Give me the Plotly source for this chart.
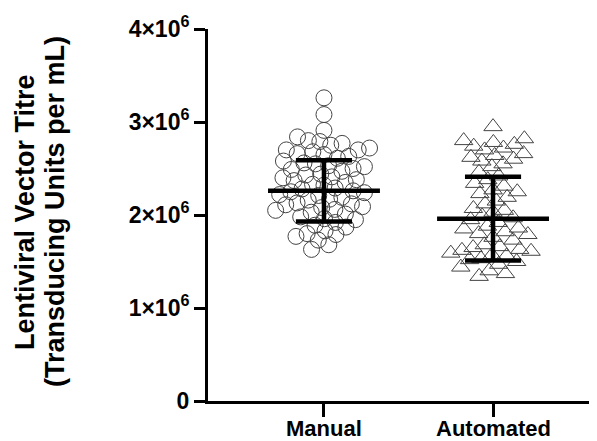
import numpy as np
import plotly.graph_objects as go

categories = ["Manual", "Automated"]

manual = [3.26, 3.08, 2.91,
          2.84, 2.80, 2.77, 2.75, 2.79,
          2.72, 2.70, 2.66, 2.68, 2.63, 2.61, 2.70, 2.65,
          2.58, 2.55, 2.52, 2.50, 2.47, 2.56, 2.49, 2.53,
          2.44, 2.41, 2.38, 2.35, 2.32, 2.43, 2.37, 2.40, 2.33,
          2.28, 2.26, 2.24, 2.22, 2.19, 2.17, 2.25, 2.21, 2.29, 2.16,
          2.13, 2.11, 2.09, 2.06, 2.03, 2.01, 2.12, 2.08, 2.05,
          1.98, 1.95, 1.92, 1.89, 1.96, 1.87,
          1.83, 1.80, 1.77, 1.73, 1.79,
          1.68, 1.63]

automated = [2.95,
             2.80, 2.78, 2.76, 2.74, 2.72, 2.82, 2.70,
             2.66, 2.62, 2.58, 2.55, 2.52, 2.64, 2.60,
             2.46, 2.42, 2.38, 2.34, 2.31,
             2.27, 2.23, 2.19, 2.15, 2.12, 2.25,
             2.07, 2.03, 1.99, 1.95, 1.92, 2.05, 1.97,
             1.88, 1.85, 1.82, 1.79, 1.76, 1.73, 1.86, 1.80,
             1.68, 1.66, 1.63, 1.61, 1.59, 1.57, 1.65, 1.62, 1.56,
             1.53, 1.50, 1.47, 1.44, 1.40, 1.37, 1.34, 1.52]

scale = 1e6
means = [2.26, 1.96]
sds = [0.33, 0.45]

yticks = [0, 1, 2, 3, 4]
yticktext = ["0", "1×10<sup>6</sup>", "2×10<sup>6</sup>", "3×10<sup>6</sup>", "4×10<sup>6</sup>"]
title_lines = ["Lentiviral Vector Titre", "(Transducing Units per mL)"]

# layout geometry (pixels); the page body has an 8px margin
OFF = 8
W, H = 597 - OFF, 441 - OFF
ML, MR, MT = 208 - OFF, 0, 29 - OFF
MB = H - (401 - OFF)
plot_w = W - ML - MR
plot_h = H - MT - MB
X_RANGE = [-0.686, 1.615]
PX_PER_CAT = plot_w / (X_RANGE[1] - X_RANGE[0])
PX_PER_Y = plot_h / 4.0


def swarm(vals, d):
    ys = np.array(vals) * PX_PER_Y
    med = np.median(ys)
    order = np.argsort(np.abs(ys - med))
    placed = []
    offs = np.zeros(len(ys))
    for i in order:
        y = ys[i]
        forb = []
        for (px, py) in placed:
            dy = abs(py - y)
            if dy < d:
                w = np.sqrt(d * d - dy * dy)
                forb.append((px - w, px + w))
        cands = [0.0] + [a for a, b in forb] + [b for a, b in forb]
        cands.sort(key=lambda c: (abs(c), c))
        for c in cands:
            if all(not (a + 1e-6 < c < b - 1e-6) for a, b in forb):
                offs[i] = c
                break
        placed.append((offs[i], y))
    return offs / PX_PER_CAT


fig = go.Figure()

groups = [manual, automated]
symbols = ["circle-open", "triangle-up-open"]
sizes = [16, 16]
for gi, (vals, sym, sz) in enumerate(zip(groups, symbols, sizes)):
    offs = swarm(vals, 11.5)
    fig.add_trace(go.Scatter(
        x=gi + offs, y=np.array(vals) * scale, mode="markers",
        marker=dict(symbol=sym, size=sz, color="#444444", line=dict(width=1, color="#444444")),
        showlegend=False, hoverinfo="y"))

# mean and SD bars
for gi, (m, s) in enumerate(zip(means, sds)):
    xs = [gi - 0.331, gi + 0.331, None, gi, gi, None,
          gi - 0.166, gi + 0.166, None, gi - 0.166, gi + 0.166]
    ys = [m, m, None, m - s, m + s, None, m + s, m + s, None, m - s, m - s]
    ys = [v * scale if v is not None else None for v in ys]
    fig.add_trace(go.Scatter(x=xs, y=ys, mode="lines",
                             line=dict(color="black", width=4.5),
                             showlegend=False, hoverinfo="skip"))

font_family = "Liberation Sans, Arial, sans-serif"

annots = []
for page_x, line in zip([25, 55], title_lines):
    annots.append(dict(
        text=line, xref="paper", yref="paper",
        x=(page_x - OFF - ML) / plot_w, y=(H - MB - (212 - OFF)) / plot_h,
        xanchor="center", yanchor="middle", textangle=-90, showarrow=False,
        font=dict(family=font_family, size=27, color="black", weight="bold")))

# category labels (placed as annotations so they sit closer to the ticks)
for gi, cat in enumerate(categories):
    annots.append(dict(
        text=cat, xref="x", yref="paper", x=gi, y=0,
        xanchor="center", yanchor="middle", yshift=-27, showarrow=False,
        font=dict(family=font_family, size=22, color="black", weight="bold")))

fig.update_layout(
    width=W, height=H,
    margin=dict(l=ML, r=MR, t=MT, b=MB, autoexpand=False),
    plot_bgcolor="white", paper_bgcolor="white",
    showlegend=False,
    xaxis=dict(range=X_RANGE, tickvals=[0, 1], showticklabels=False,
               showgrid=False, zeroline=False, showline=True, automargin=False,
               linecolor="black", linewidth=3,
               ticks="outside", ticklen=13, tickwidth=3, tickcolor="black"),
    yaxis=dict(range=[0, 4 * scale], tickvals=[v * scale for v in yticks], ticktext=yticktext,
               showgrid=False, zeroline=False, showline=True, automargin=False,
               linecolor="black", linewidth=3,
               ticks="outside", ticklen=11, tickwidth=3, tickcolor="black",
               tickfont=dict(family=font_family, size=23, color="black", weight="bold")),
    annotations=annots,
)

fig.write_html("out.html")
